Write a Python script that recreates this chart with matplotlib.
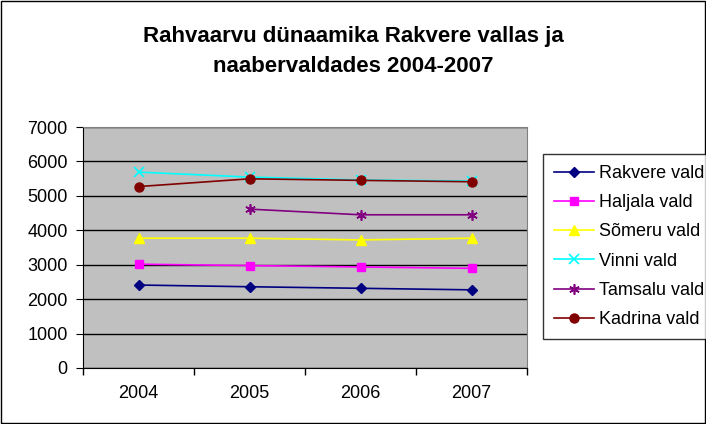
import matplotlib.pyplot as plt
from matplotlib.patches import Rectangle
import numpy as np

plt.rcParams['font.family'] = ['Liberation Sans', 'DejaVu Sans']

# data
years = ['2004', '2005', '2006', '2007']
rakvere = [2410, 2360, 2315, 2270]
haljala = [3015, 2975, 2935, 2895]
someru = [3770, 3770, 3720, 3770]
vinni = [5690, 5545, 5460, 5430]
tamsalu = [np.nan, 4615, 4450, 4450]
kadrina = [5270, 5495, 5450, 5410]

series = [
    ("Rakvere vald", rakvere, '#000080', 'D', 5),
    ("Haljala vald", haljala, '#FF00FF', 's', 6),
    ("Sõmeru vald", someru, '#FFFF00', '^', 7),
    ("Vinni vald", vinni, '#00FFFF', 'x', 6.5),
    ("Tamsalu vald", tamsalu, '#800080', (6, 2, 0), 7.5),
    ("Kadrina vald", kadrina, '#800000', 'o', 6.5),
]

fig = plt.figure(figsize=(7.06, 4.24), dpi=100)
ax = fig.add_axes([83 / 706, 56 / 424, 444 / 706, 241 / 424])
ax.set_facecolor('#C0C0C0')

x = np.arange(len(years))
for name, vals, col, mk, ms in series:
    ax.plot(x, vals, color=col, marker=mk, markersize=ms, linewidth=1.2,
            markeredgewidth=1.2 if mk in ('x', (6, 2, 0)) else 1, label=name)

ax.set_ylim(0, 7000)
ax.set_yticks(range(0, 7001, 1000))
ax.yaxis.grid(True, color='black', linewidth=1)
ax.set_axisbelow(True)
ax.set_xlim(-0.5, 3.5)
ax.set_xticks(np.arange(-0.5, 4, 1))
ax.set_xticklabels([])
ax.set_xticks(x, minor=True)
ax.set_xticklabels(years, minor=True)
ax.tick_params(axis='x', which='minor', length=0, pad=12, labelsize=13)
ax.tick_params(axis='x', which='major', length=5, direction='out', width=1)
ax.tick_params(axis='y', length=5, direction='out', labelsize=13, pad=6)

for side in ('top', 'right'):
    ax.spines[side].set_color('#808080')
for side in ('left', 'bottom'):
    ax.spines[side].set_color('black')

fig.text(0.5, 1 - 42 / 424, "Rahvaarvu dünaamika Rakvere vallas ja",
         ha='center', va='baseline', fontsize=16, fontweight='bold')
fig.text(0.5, 1 - 72 / 424, "naabervaldades 2004-2007",
         ha='center', va='baseline', fontsize=16, fontweight='bold')

leg = fig.legend(loc='upper left', bbox_to_anchor=(543 / 706, 1 - 154 / 424),
                 frameon=True, fancybox=False, edgecolor='black', fontsize=13,
                 handlelength=2.2, labelspacing=0.68, borderpad=0.6, handletextpad=0.3,
                 borderaxespad=0)
leg.get_frame().set_linewidth(1)

fig.patches.append(Rectangle((1 / 706, 1 / 424), 1 - 2 / 706, 1 - 2 / 424,
                             transform=fig.transFigure, fill=False,
                             edgecolor='black', linewidth=1))

fig.savefig('out.png', dpi=100)
